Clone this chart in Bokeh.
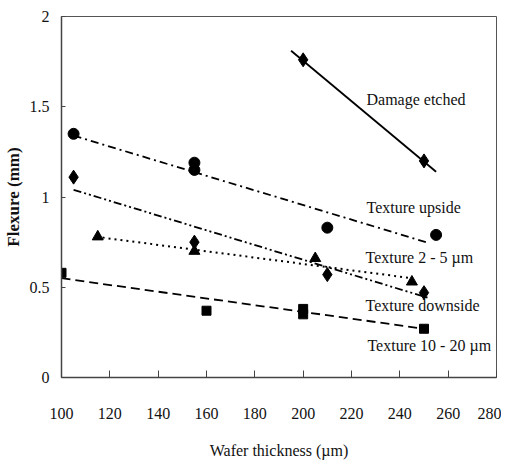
from bokeh.plotting import figure
from bokeh.models import Label, FixedTicker, NumeralTickFormatter, Range1d
from bokeh.embed import file_html
from bokeh.resources import INLINE

# ---- data ----
damage_x = [200, 250]
damage_y = [1.76, 1.20]
damage_fit_x = [195, 255]
damage_fit_y = [1.81, 1.14]

upside_x = [105, 155, 155, 210, 255]
upside_y = [1.35, 1.15, 1.19, 0.83, 0.79]
upside_fit_x = [105, 252]
upside_fit_y = [1.34, 0.745]

downside_x = [105, 155, 210, 250]
downside_y = [1.11, 0.75, 0.57, 0.47]
downside_fit_x = [105, 252]
downside_fit_y = [1.04, 0.44]

tex25_x = [115, 155, 205, 245]
tex25_y = [0.78, 0.70, 0.66, 0.53]
tex25_fit_x = [117, 245]
tex25_fit_y = [0.775, 0.55]

tex1020_x = [100, 160, 200, 200, 250]
tex1020_y = [0.58, 0.37, 0.35, 0.38, 0.27]
tex1020_fit_x = [100, 250]
tex1020_fit_y = [0.55, 0.27]

x_ticks = [100, 120, 140, 160, 180, 200, 220, 240, 260, 280]
y_ticks = [0, 0.5, 1, 1.5, 2]

label_texts = ["Damage etched", "Texture upside", "Texture 2 - 5 \u00b5m",
               "Texture downside", "Texture 10 - 20 \u00b5m"]
label_x = [226.2, 226.2, 225.8, 225.8, 226.6]
label_y = [1.54, 0.94, 0.665, 0.40, 0.177]

FONT = "Liberation Serif"

p = figure(frame_width=435, frame_height=361, output_backend="svg", toolbar_location=None,
           x_range=Range1d(100, 280), y_range=Range1d(0, 2),
           min_border_left=56, min_border_right=5, min_border_top=16, min_border_bottom=70)
p.xgrid.visible = False
p.ygrid.visible = False
p.outline_line_color = "#555555"
p.outline_line_width = 1
p.background_fill_color = "white"
p.border_fill_color = "white"

black = "black"
# fit lines
p.line(damage_fit_x, damage_fit_y, line_color=black, line_width=1.8)
p.line(upside_fit_x, upside_fit_y, line_color=black, line_width=1.8, line_dash="8 4 2 4")
p.line(downside_fit_x, downside_fit_y, line_color=black, line_width=1.8, line_dash="8 3 2 3 2 3")
p.line(tex25_fit_x, tex25_fit_y, line_color=black, line_width=2, line_dash="2 4")
p.line(tex1020_fit_x, tex1020_fit_y, line_color=black, line_width=1.8, line_dash="9 5")

# markers
p.scatter(damage_x, damage_y, marker="diamond", size=14, color=black)
p.scatter(upside_x, upside_y, marker="circle", size=11, color=black)
p.scatter(downside_x, downside_y, marker="diamond", size=14, color=black)
p.scatter(tex25_x, tex25_y, marker="triangle", size=11, color=black)
p.scatter(tex1020_x, tex1020_y, marker="square", size=9, color=black)

for t, lx, ly in zip(label_texts, label_x, label_y):
    p.add_layout(Label(x=lx, y=ly, text=t, text_font=FONT, text_font_size="16px",
                       text_baseline="middle", text_align="left", text_color="#111111"))

for ax in (p.xaxis[0], p.yaxis[0]):
    ax.axis_line_color = "#444444"
    ax.axis_line_width = 1.5
    ax.major_tick_line_color = "#444444"
    ax.major_tick_out = 0
    ax.minor_tick_line_color = None
    ax.major_label_text_font = FONT
    ax.major_label_text_font_size = "16px"
    ax.major_label_text_color = "#111111"
    ax.axis_label_text_font = FONT
    ax.axis_label_text_color = "#111111"

p.xaxis.ticker = FixedTicker(ticks=x_ticks)
p.yaxis.ticker = FixedTicker(ticks=y_ticks)
p.yaxis.formatter = NumeralTickFormatter(format="0.[0]")
p.xaxis.major_tick_in = 7
p.yaxis.major_tick_in = 4
p.xaxis.major_label_standoff = 30
p.yaxis.major_label_standoff = 12
p.xaxis.axis_label = "Wafer thickness (\u00b5m)"
p.xaxis.axis_label_text_font_size = "16px"
p.xaxis.axis_label_text_font_style = "normal"
p.xaxis.axis_label_standoff = 20
p.yaxis.axis_label = "Flexure (mm)"
p.yaxis.axis_label_text_font_size = "17px"
p.yaxis.axis_label_text_font_style = "bold"
p.yaxis.axis_label_standoff = 4

open("out.html", "w").write(file_html(p, INLINE))
